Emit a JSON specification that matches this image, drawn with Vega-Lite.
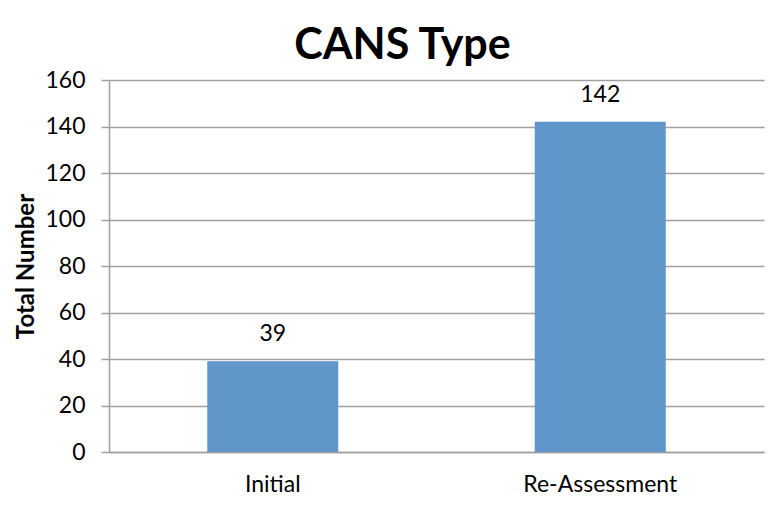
{
  "$schema": "https://vega.github.io/schema/vega-lite/v6.json",
  "autosize": {"type": "none"},
  "width": 655,
  "height": 372,
  "padding": {"left": 109, "top": 80, "right": 18, "bottom": 56},
  "background": "white",
  "title": {
    "text": "CANS Type",
    "font": "Lato",
    "fontSize": 43,
    "fontWeight": "bold",
    "color": "#000000",
    "anchor": "middle",
    "frame": "group",
    "dx": -34,
    "dy": 52,
    "baseline": "alphabetic",
    "offset": 19
  },
  "data": {
    "values": [
      {"type": "Initial", "total": 39},
      {"type": "Re-Assessment", "total": 142}
    ]
  },
  "encoding": {
    "x": {
      "field": "type",
      "type": "nominal",
      "sort": null,
      "scale": {"paddingInner": 0.6, "paddingOuter": 0.3},
      "axis": {
        "title": null,
        "labelAngle": 0,
        "labelFont": "Lato",
        "labelFontSize": 23,
        "labelColor": "#000000",
        "labelPadding": 21,
        "ticks": false,
        "domainColor": "#A0A0A0",
        "domainWidth": 1.5
      }
    },
    "y": {
      "field": "total",
      "type": "quantitative",
      "scale": {"domain": [0, 160], "nice": false},
      "axis": {
        "title": "Total Number",
        "titleFont": "Lato",
        "titleFontSize": 24,
        "titleFontWeight": "bold",
        "titleColor": "#000000",
        "titlePadding": 6,
        "values": [0, 20, 40, 60, 80, 100, 120, 140, 160],
        "labelFont": "Lato",
        "labelFontSize": 23,
        "labelColor": "#000000",
        "labelPadding": 16,
        "tickSize": 8,
        "tickColor": "#A0A0A0",
        "tickWidth": 1.5,
        "domainColor": "#A0A0A0",
        "domainWidth": 1.5,
        "gridColor": "#A0A0A0",
        "gridWidth": 1.5
      }
    }
  },
  "layer": [
    {
      "mark": {"type": "bar", "color": "#6096CA"}
    },
    {
      "mark": {"type": "text", "baseline": "bottom", "dy": -15, "font": "Lato", "fontSize": 23, "color": "#000000"},
      "encoding": {"text": {"field": "total", "type": "quantitative"}}
    }
  ],
  "config": {"view": {"stroke": null}}
}
